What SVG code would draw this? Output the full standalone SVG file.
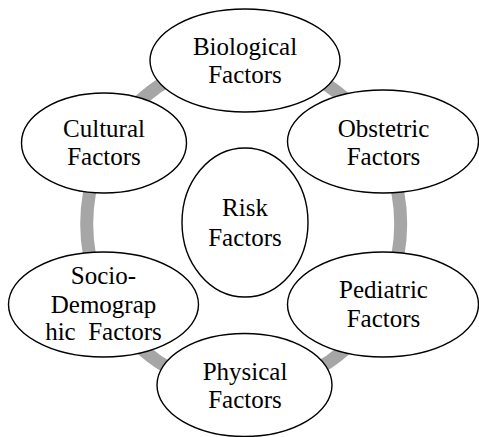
<svg xmlns="http://www.w3.org/2000/svg" width="479" height="437" viewBox="0 0 479 437">
  <style>
    .node ellipse { fill: #ffffff; stroke: #000000; stroke-width: 1.4; }
    .node text { font-size: 25px; fill: #000000; text-anchor: middle; }
    .ring { fill: none; stroke: #a6a6a6; stroke-width: 13; }
  </style>
  <rect width="479" height="437" fill="#ffffff"/>

  <!-- cycle ring linking the outer factors -->
  <g id="connectors">
    <ellipse class="ring" cx="243.7" cy="224" rx="157" ry="164"/>
  </g>

  <g id="nodes">
    <g id="node-biological" class="node">
      <ellipse cx="245" cy="60.5" rx="95" ry="51.5"/>
      <text font-family="Times New Roman"><tspan x="245" y="55">Biological</tspan><tspan x="245" y="83">Factors</tspan></text>
    </g>

    <g id="node-cultural" class="node">
      <ellipse cx="104" cy="143" rx="82.5" ry="50"/>
      <text font-family="Times New Roman"><tspan x="104" y="137">Cultural</tspan><tspan x="104" y="165">Factors</tspan></text>
    </g>

    <g id="node-obstetric" class="node">
      <ellipse cx="383" cy="141.5" rx="95.5" ry="51.5"/>
      <text font-family="Times New Roman"><tspan x="383.5" y="137">Obstetric</tspan><tspan x="383.5" y="165">Factors</tspan></text>
    </g>

    <g id="node-risk" class="node">
      <ellipse cx="245" cy="222.5" rx="63" ry="74.5"/>
      <text font-family="Times New Roman"><tspan x="245" y="216">Risk</tspan><tspan x="245" y="246">Factors</tspan></text>
    </g>

    <g id="node-socio" class="node">
      <ellipse cx="103.5" cy="304.5" rx="95" ry="52.5"/>
      <text font-family="Times New Roman"><tspan x="103.5" y="284">Socio-</tspan><tspan x="103.5" y="313">Demograp</tspan><tspan x="103.5" y="340" xml:space="preserve">hic  Factors</tspan></text>
    </g>

    <g id="node-pediatric" class="node">
      <ellipse cx="383" cy="304.5" rx="95.5" ry="52.5"/>
      <text font-family="Times New Roman"><tspan x="383.5" y="298">Pediatric</tspan><tspan x="383.5" y="327">Factors</tspan></text>
    </g>

    <g id="node-physical" class="node">
      <ellipse cx="244.5" cy="385" rx="87.5" ry="51.5"/>
      <text font-family="Times New Roman"><tspan x="245" y="380">Physical</tspan><tspan x="245" y="408">Factors</tspan></text>
    </g>
  </g>
</svg>
